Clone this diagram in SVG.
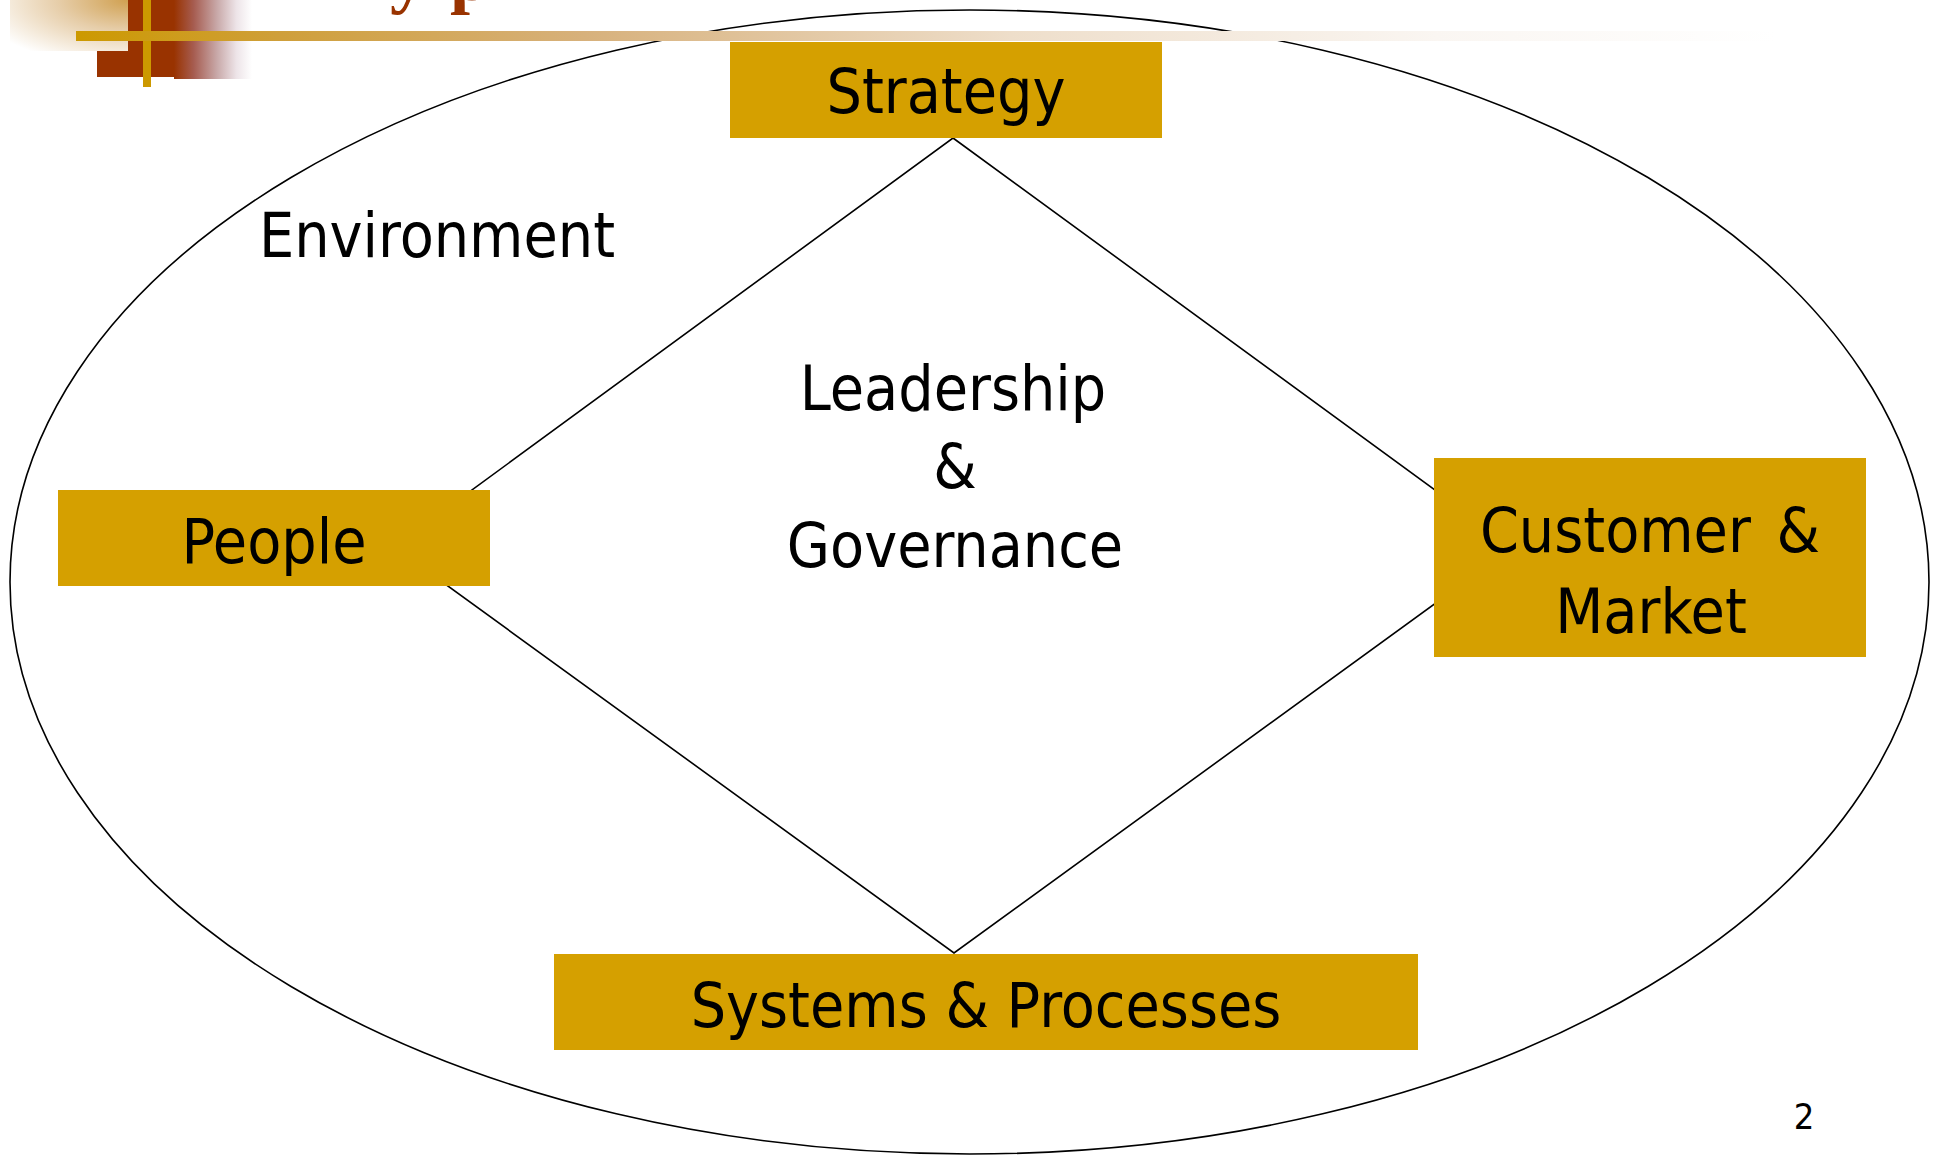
<svg xmlns="http://www.w3.org/2000/svg" width="1939" height="1155" viewBox="0 0 1939 1155">
<style>
.box{fill:#D5A000;}
.lbl{font-family:"DejaVu Sans Condensed","DejaVu Sans",sans-serif;font-size:62px;fill:#000;text-anchor:middle;}
.line{stroke:#000;stroke-width:1.6;fill:none;}
</style>
<defs>
<radialGradient id="beige" cx="1" cy="0" r="1.3" fx="1" fy="0">
<stop offset="0" stop-color="#D0A050"/>
<stop offset="0.45" stop-color="#E6CDA8"/>
<stop offset="1" stop-color="#FFFFFF"/>
</radialGradient>
<linearGradient id="redfade" x1="0" y1="0" x2="1" y2="0">
<stop offset="0" stop-color="#993300"/>
<stop offset="0.25" stop-color="#A65C50"/>
<stop offset="0.55" stop-color="#C8A8A8"/>
<stop offset="0.8" stop-color="#EDE4E8"/>
<stop offset="1" stop-color="#FFFFFF"/>
</linearGradient>
<linearGradient id="bar" x1="0" y1="0" x2="1" y2="0">
<stop offset="0" stop-color="#CC9900"/>
<stop offset="0.12" stop-color="#CF9F3A"/>
<stop offset="0.3" stop-color="#D7B17C"/>
<stop offset="0.55" stop-color="#EEDECA"/>
<stop offset="0.8" stop-color="#FAF6F2"/>
<stop offset="1" stop-color="#FFFFFF"/>
</linearGradient>
</defs>
<rect width="1939" height="1155" fill="#FFFFFF"/>
<g id="decoration">
<rect x="97" y="0" width="77" height="77" fill="#993300"/>
<rect x="10" y="0" width="118" height="51" fill="url(#beige)"/>
<rect x="174" y="0" width="78" height="79" fill="url(#redfade)"/>
<rect x="143" y="0" width="8" height="87" fill="#CC9900"/>
<text x="390 427 450" y="0" font-family="'Liberation Serif',serif" font-weight="bold" font-size="72" fill="#993300">y p</text>
</g>
<g id="environment">
<ellipse cx="969.5" cy="582" rx="959.5" ry="572" class="line" stroke-width="2"/>
<text x="437" y="257" class="lbl">Environment</text>
</g>
<rect id="title-bar" x="76" y="31" width="1700" height="10" fill="url(#bar)"/>
<g id="connectors">
<polygon points="953,138 1513,547 954,953 394,547" class="line"/>
</g>
<g id="leadership">
<text x="953" y="410" class="lbl">Leadership</text>
<text x="955" y="488" class="lbl">&amp;</text>
<text x="955" y="567" class="lbl">Governance</text>
</g>
<g id="strategy">
<rect x="730" y="42" width="432" height="96" class="box"/>
<text x="946" y="113" class="lbl">Strategy</text>
</g>
<g id="people">
<rect x="58" y="490" width="432" height="96" class="box"/>
<text x="274" y="563" class="lbl">People</text>
</g>
<g id="customer">
<rect x="1434" y="458" width="432" height="199" class="box"/>
<text x="1650" y="552" class="lbl" word-spacing="8">Customer &amp;</text>
<text x="1651" y="633" class="lbl">Market</text>
</g>
<g id="systems">
<rect x="554" y="954" width="864" height="96" class="box"/>
<text x="986" y="1027" class="lbl">Systems &amp; Processes</text>
</g>
<text id="page-number" x="1804" y="1129" font-family="'DejaVu Sans Condensed','DejaVu Sans',sans-serif" font-size="36" text-anchor="middle" fill="#000">2</text>
</svg>
